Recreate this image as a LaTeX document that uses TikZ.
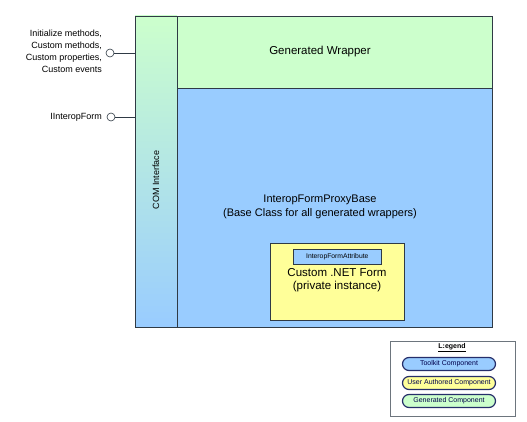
\documentclass[tikz,border=0pt]{standalone}
\usepackage{fontspec}
\setmainfont{Liberation Sans}
\usetikzlibrary{shapes.misc}
\definecolor{gengreen}{HTML}{CCFFCC}
\definecolor{tkblue}{HTML}{99CCFF}
\definecolor{usryellow}{HTML}{FFFF99}
\definecolor{edgec}{HTML}{2F3A45}
\begin{document}
\begin{tikzpicture}[x=1pt,y=-1pt,
  boxline/.style={draw=edgec,line width=0.8pt},
  lbl/.style={font=\fontsize{9}{12}\selectfont,align=right,inner sep=0pt},
  lolly/.style={circle,draw=edgec,fill=white,minimum size=8pt,inner sep=0pt,line width=0.6pt},
  pill/.style={rounded rectangle,draw=edgec!80!blue,line width=1.2pt,minimum width=93pt,minimum height=13pt,inner sep=0pt,font=\fontsize{7}{8}\selectfont,text=black!70!blue}]
\useasboundingbox (0,0) rectangle (527,422);
% COM interface column
\shade[top color=gengreen, bottom color=tkblue] (135,16) rectangle (177,327);
\node[boxline,minimum width=42pt,minimum height=311pt,anchor=north west,inner sep=0pt] (com) at (135,16) {};
\node[rotate=90,font=\fontsize{9}{11}\selectfont] (comlbl) at (156,180) {COM Interface};
% Generated wrapper
\node[boxline,fill=gengreen,minimum width=315pt,minimum height=72pt,anchor=north west,inner sep=0pt] (wrap) at (177,16) {};
\node[font=\fontsize{11.5}{13}\selectfont] (wraplbl) at (320,52) {Generated Wrapper};
% Proxy base
\node[boxline,fill=tkblue,minimum width=315pt,minimum height=239pt,anchor=north west,inner sep=0pt] (proxy) at (177,88) {};
\node[font=\fontsize{11}{14.5}\selectfont,align=center] (proxylbl) at (320,207) {InteropFormProxyBase\\(Base Class for all generated wrappers)};
% Custom form
\node[boxline,fill=usryellow,minimum width=134pt,minimum height=77pt,anchor=north west,inner sep=0pt] (form) at (270,243) {};
\node[draw=edgec,fill=tkblue,line width=0.6pt,minimum width=88pt,minimum height=15pt,inner sep=0pt,anchor=north west,font=\fontsize{6.8}{7}\selectfont] (attr) at (293,249) {InteropFormAttribute};
\node[font=\fontsize{11.5}{12.5}\selectfont,align=center] (formlbl) at (337,280) {Custom .NET Form\\(private instance)};
% Lollipops
\node[lolly] (l1) at (110,53) {};
\coordinate (c1) at (135,53);
\draw[edgec,line width=0.6pt] (l1) -- (c1);
\node[lbl,anchor=east] (t1) at (102,51) {Initialize methods,\\Custom methods,\\Custom properties,\\Custom events};
\node[lolly] (l2) at (111,117) {};
\coordinate (c2) at (135,117);
\draw[edgec,line width=0.6pt] (l2) -- (c2);
\node[lbl,anchor=east] (t2) at (102,117) {IInteropForm};
% Legend
\node[draw=edgec!70,line width=0.6pt,minimum width=125pt,minimum height=75pt,anchor=north west,inner sep=0pt] (legend) at (390,341) {};
\node[font=\bfseries\fontsize{7}{8}\selectfont] (legtitle) at (452,348) {\underline{L:egend}};
\node[pill,fill=tkblue] (p1) at (449,364) {Toolkit Component};
\node[pill,fill=usryellow] (p2) at (449,383) {User Authored Component};
\node[pill,fill=gengreen] (p3) at (449,401) {Generated Component};
\end{tikzpicture}
\end{document}
